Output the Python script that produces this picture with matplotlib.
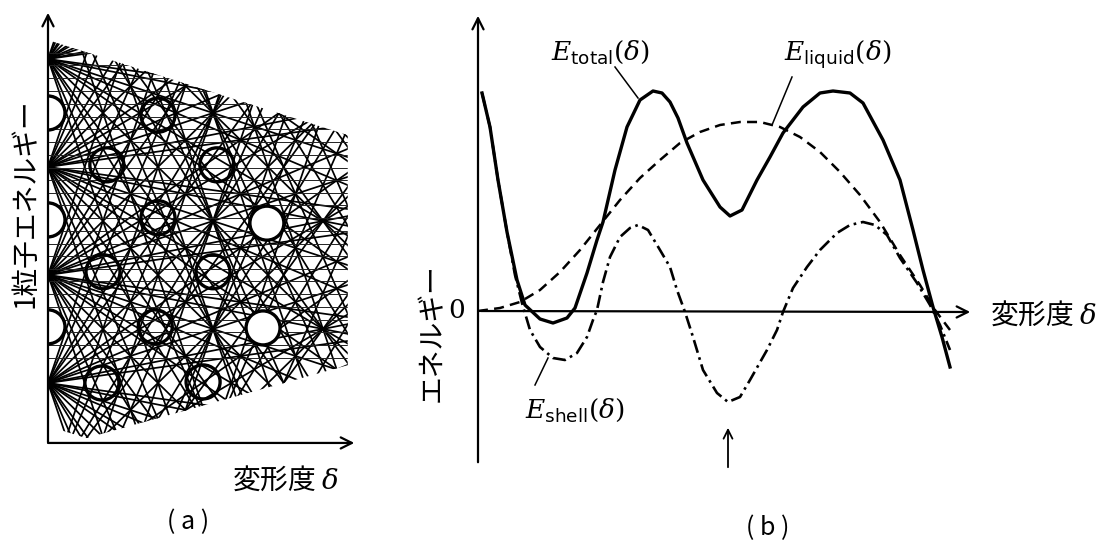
import numpy as np
import matplotlib.pyplot as plt
from matplotlib.patches import Ellipse, Polygon

plt.rcParams['font.family'] = ['Noto Sans CJK JP', 'DejaVu Sans']
plt.rcParams['mathtext.fontset'] = 'dejavuserif'

# --- (a) single-particle levels vs deformation (lattice units) ---
shell_energy = [11, 9, 7, 5, 3, 1, -1, -3, -5, -7, -9, -11, -13, -15]
level_slope = [3, 7/3, 5/3, 7/5, 1, 5/7, 3/5, 3/7, 1/3, 1/5, 1/7,
               -1/7, -1/5, -1/3, -3/7, -3/5, -5/7, -1, -7/5, -5/3, -7/3, -3]
flat_energy = [1.11, 0.88, 0.64, 0.41, 0.17, -0.07, -0.30, -0.54, -0.77, -1.01,
               -1.24, -1.48, -1.71, -1.95, -2.18, -2.42, -2.65, -2.89, -3.12,
               -3.36, -3.59, -3.83, -4.06, -4.30, -4.53]
gap_delta = [0, 2.0, 1.07, 3.07, 0, 2.0, 3.98, 1.0, 3.0, 0, 1.95, 3.91, 0.98, 2.82]
gap_energy = [0, -0.04, -0.96, -0.96, -1.98, -1.94, -2.04, -2.94, -2.94,
              -3.96, -3.96, -3.98, -5.0, -4.98]
gap_empty = [True, False, False, False, True, False, True, False, False,
             True, False, True, False, False]
window_delta = [0, 5.45, 5.45, 0.7, 0]
window_energy = [1.35, -0.41, -4.67, -6.02, -5.8]

# --- (b) energy curves vs deformation ---
total_delta = [0.04, 0.12, 0.20, 0.29, 0.39, 0.47, 0.62, 0.75, 0.89, 0.97, 1.09,
               1.19, 1.25, 1.37, 1.49, 1.62, 1.75, 1.84, 1.92, 2.00, 2.09, 2.25,
               2.42, 2.52, 2.64, 2.79, 2.92, 3.05, 3.25, 3.42, 3.55, 3.72, 3.85,
               4.05, 4.22, 4.35, 4.45, 4.55, 4.64, 4.72]
total_energy = [2.18, 1.84, 1.31, 0.79, 0.31, 0.06, -0.08, -0.12, -0.07, 0.03,
                0.38, 0.71, 0.89, 1.41, 1.84, 2.11, 2.20, 2.18, 2.09, 1.93, 1.68,
                1.31, 1.04, 0.95, 1.01, 1.31, 1.54, 1.78, 2.04, 2.18, 2.20, 2.18,
                2.08, 1.71, 1.31, 0.81, 0.41, 0.04, -0.26, -0.56]
liquid_delta = [0, 0.22, 0.42, 0.62, 0.82, 1.02, 1.22, 1.42, 1.62, 1.82, 2.02,
                2.22, 2.42, 2.62, 2.82, 3.02, 3.22, 3.42, 3.62, 3.82, 4.02, 4.22,
                4.42, 4.57, 4.72]
liquid_energy = [0, 0.03, 0.09, 0.21, 0.39, 0.61, 0.86, 1.11, 1.33, 1.51, 1.68,
                 1.79, 1.86, 1.89, 1.89, 1.84, 1.74, 1.59, 1.39, 1.16, 0.89, 0.56,
                 0.26, 0.01, -0.19]
shell_delta = [0.04, 0.12, 0.20, 0.29, 0.37, 0.44, 0.52, 0.62, 0.75, 0.87, 0.99,
               1.09, 1.15, 1.19, 1.25, 1.32, 1.42, 1.52, 1.60, 1.70, 1.82, 1.92,
               1.99, 2.07, 2.15, 2.25, 2.39, 2.50, 2.62, 2.72, 2.89, 2.99, 3.05,
               3.15, 3.29, 3.42, 3.59, 3.72, 3.85, 3.97, 4.09, 4.22, 4.39, 4.52,
               4.62, 4.72]
shell_energy_b = [2.18, 1.84, 1.31, 0.79, 0.36, 0.08, -0.19, -0.36, -0.47, -0.49,
                  -0.42, -0.26, -0.09, 0.01, 0.29, 0.54, 0.74, 0.83, 0.86, 0.81,
                  0.61, 0.44, 0.21, -0.01, -0.26, -0.59, -0.82, -0.91, -0.86,
                  -0.69, -0.39, -0.19, -0.01, 0.23, 0.44, 0.61, 0.78, 0.86, 0.89,
                  0.86, 0.76, 0.53, 0.28, 0.06, -0.14, -0.39]
marked_delta = 2.50

W, H = 1109, 555
fig = plt.figure(figsize=(W / 100, H / 100), dpi=100)
arrow = dict(arrowstyle='->', lw=1.6, color='black', mutation_scale=20)

# ---------------- panel (a) ----------------
ax_a = fig.add_axes([48 / W, 1 - 445 / H, 312 / W, 435 / H])
ax_a.set_xlim(0, 5.673)
ax_a.set_ylim(-6.148, 1.907)
ax_a.axis('off')

window = Polygon(np.column_stack([window_delta, window_energy]), closed=True,
                 transform=ax_a.transData, fc='none', ec='none')
ax_a.add_patch(window)

x = np.array([0, 5.7])
for e0 in shell_energy:
    for s in level_slope:
        ln, = ax_a.plot(x, e0 + s * x, color='black', lw=1.25)
        ln.set_clip_path(window)
flat = ax_a.hlines(flat_energy, 0, 5.7, color='#222222', lw=0.7)
flat.set_clip_path(window)

for d, e, empty in zip(gap_delta, gap_energy, gap_empty):
    ax_a.add_patch(Ellipse((d, e), 2 * 17 / 55, 2 * 17 / 54,
                           fc='white' if empty else 'none', ec='black',
                           lw=2.4, zorder=3))

ax_a.annotate('', xy=(0, 1.907), xytext=(0, -6.15), arrowprops=arrow,
              annotation_clip=False)
ax_a.annotate('', xy=(5.62, -6.11), xytext=(-0.05, -6.11), arrowprops=arrow,
              annotation_clip=False)

fig.text(25 / W, 1 - 203 / H, '1粒子エネルギー', rotation=90, fontsize=20,
         ha='center', va='center')
fig.text(285 / W, 1 - 481 / H, '変形度 $\\delta$', fontsize=20,
         ha='center', va='center')
fig.text(188 / W, 1 - 522 / H, '( a )', fontsize=18, ha='center', va='center')

# ---------------- panel (b) ----------------
ax_b = fig.add_axes([478 / W, 1 - 470 / H, 502 / W, 457 / H])
ax_b.set_xlim(0, 5.02)
ax_b.set_ylim(-1.59, 2.98)
ax_b.axis('off')

ax_b.annotate('', xy=(0, 2.98), xytext=(0, -1.54), arrowprops=arrow,
              annotation_clip=False)
ax_b.annotate('', xy=(4.95, -0.01), xytext=(0, 0), arrowprops=arrow,
              annotation_clip=False)

ax_b.plot(liquid_delta, liquid_energy, color='black', lw=1.8,
          linestyle=(0, (4, 2.5)), clip_on=False)
ax_b.plot(total_delta, total_energy, color='black', lw=2.4,
          solid_joinstyle='round', clip_on=False)
ax_b.plot(shell_delta, shell_energy_b, color='black', lw=1.9,
          linestyle=(0, (5, 1.8, 1, 1.8)), clip_on=False)

ax_b.annotate('', xy=(marked_delta, -1.14), xytext=(marked_delta, -1.59),
              arrowprops=dict(arrowstyle='->', lw=1.3, color='black',
                              mutation_scale=16), annotation_clip=False)

ax_b.plot([1.37, 1.60], [2.44, 2.13], color='black', lw=1.1)
ax_b.plot([3.14, 2.94], [2.34, 1.86], color='black', lw=1.1)
ax_b.plot([0.70, 0.57], [-0.47, -0.74], color='black', lw=1.1)

ax_b.text(1.22, 2.59, '$E_{\\mathsf{total}}(\\delta)$', fontsize=19,
          ha='center', va='center')
ax_b.text(3.60, 2.57, '$E_{\\mathsf{liquid}}(\\delta)$', fontsize=19,
          ha='center', va='center')
ax_b.text(0.97, -0.99, '$E_{\\mathsf{shell}}(\\delta)$', fontsize=19,
          ha='center', va='center')
ax_b.text(-0.21, 0.0, '0', fontsize=19, family='DejaVu Serif',
          ha='center', va='center')

fig.text(1043 / W, 1 - 316 / H, '変形度 $\\delta$', fontsize=20,
         ha='center', va='center')
fig.text(432 / W, 1 - 333 / H, 'エネルギー', rotation=90, fontsize=20,
         ha='center', va='center')
fig.text(768 / W, 1 - 528 / H, '( b )', fontsize=18, ha='center', va='center')

fig.savefig('out.png', dpi=100)
